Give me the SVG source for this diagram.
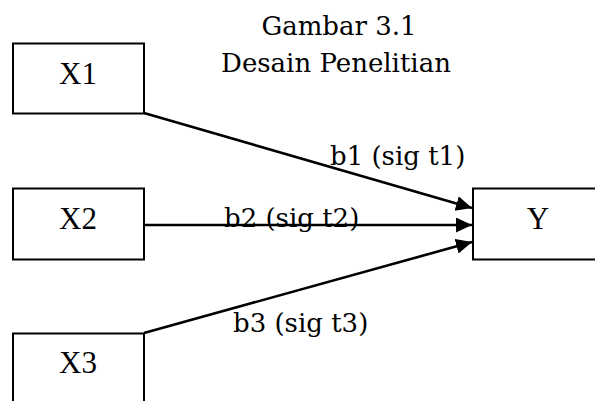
<svg xmlns="http://www.w3.org/2000/svg" width="595" height="401" viewBox="0 0 595 401">
<defs>
<style>
.box{fill:#fff;stroke:#000;stroke-width:2}
.nt{font-family:"Liberation Serif","Times New Roman",serif;font-size:31px;text-anchor:middle;fill:#000}
.lt{font-family:"DejaVu Serif",serif;font-size:26px;fill:#000}
.ttl{font-family:"DejaVu Serif",serif;font-size:26px;text-anchor:middle;fill:#000}
.ln{stroke:#000;stroke-width:2.6;fill:none;marker-end:url(#ah)}
</style>
<marker id="ah" markerUnits="userSpaceOnUse" markerWidth="17" markerHeight="16" refX="16" refY="7.5" orient="auto">
<path d="M0,0 L16,7.5 L0,15 z" fill="#000"/>
</marker>
</defs>
<rect width="595" height="401" fill="#fff"/>
<g id="title">
<text class="ttl" x="339" y="35">Gambar 3.1</text>
<text class="ttl" x="336" y="72">Desain Penelitian</text>
</g>
<g id="connectors">
<line class="ln" x1="144" y1="113" x2="472" y2="208"/>
<line class="ln" x1="144" y1="225" x2="472" y2="225"/>
<line class="ln" x1="144" y1="333" x2="472" y2="242"/>
<text class="lt" x="330" y="165">b1 (sig t1)</text>
<text class="lt" x="224" y="227">b2 (sig t2)</text>
<text class="lt" x="233" y="332">b3 (sig t3)</text>
</g>
<g id="X1">
<rect class="box" x="13" y="43.5" width="131" height="70"/>
<text class="nt" x="78" y="84">X1</text>
</g>
<g id="X2">
<rect class="box" x="13" y="188.5" width="131" height="71"/>
<text class="nt" x="78" y="229">X2</text>
</g>
<g id="X3">
<rect class="box" x="13" y="333.5" width="131" height="80"/>
<text class="nt" x="78" y="373">X3</text>
</g>
<g id="Y">
<rect class="box" x="473" y="188.5" width="130" height="71"/>
<text class="nt" x="538" y="229">Y</text>
</g>
</svg>
